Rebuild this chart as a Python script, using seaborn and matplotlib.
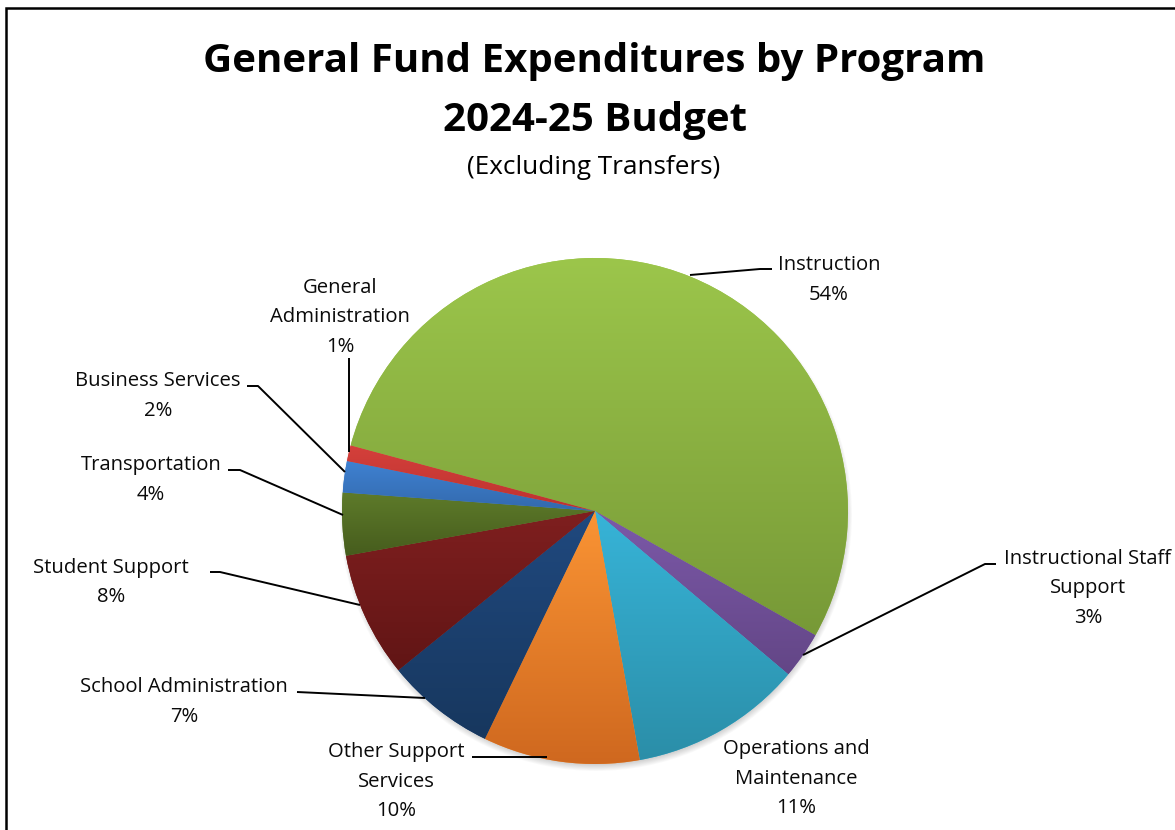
import numpy as np
import matplotlib
matplotlib.use("Agg")
import matplotlib.pyplot as plt
from matplotlib.colors import to_rgb
from matplotlib.patches import Circle
import seaborn as sns

sns.set_theme(style="white")
plt.rcParams["font.family"] = ["Open Sans", "DejaVu Sans"]

# Share of the general fund by program (percent of total, excluding transfers)
programs = [
    "Instruction",
    "Instructional Staff\nSupport",
    "Operations and\nMaintenance",
    "Other Support\nServices",
    "School Administration",
    "Student Support",
    "Transportation",
    "Business Services",
    "General\nAdministration",
]
shares = [54, 3, 11, 10, 7, 8, 4, 2, 1]

# Top / bottom shades of each slice's vertical gradient
top_colors = ["#9cc64b", "#7c59a9", "#37b4d8", "#fa9434", "#20497f",
              "#7f1f1f", "#5e7b2a", "#3f82d2", "#d4403b"]
bottom_colors = ["#779937", "#634686", "#2b8ea8", "#cf681f", "#17375e",
                 "#611515", "#465c1d", "#3369ad", "#bd3230"]

W, H = 1175, 830
fig = plt.figure(figsize=(W / 100, H / 100), dpi=100)
ax = fig.add_axes([0, 0, 1, 1])


def py(y):
    """Convert a top-down pixel row into the axes' upward y coordinate."""
    return H - y


cx, cy, radius = 595, py(511), 253

# soft drop shadow under the pie
for k in range(8):
    ax.add_patch(Circle((cx + 1, cy - 4), radius + 3 - k * 0.9,
                        facecolor="black", edgecolor="none",
                        alpha=0.025, zorder=1))

wedges, _ = ax.pie(shares, center=(cx, cy), radius=radius,
                   startangle=165.0, counterclock=False,
                   colors=top_colors,
                   wedgeprops=dict(linewidth=0, zorder=2),
                   frame=True)

# vertical gradient inside every slice
for w, ct, cb in zip(wedges, top_colors, bottom_colors):
    t1, t2 = np.deg2rad(w.theta1), np.deg2rad(w.theta2)
    ang = np.linspace(t1, t2, 200)
    xs = np.concatenate([[cx], cx + radius * np.cos(ang)])
    ys = np.concatenate([[cy], cy + radius * np.sin(ang)])
    y0, y1 = ys.min(), ys.max()
    x0, x1 = xs.min(), xs.max()
    f = np.linspace(0, 1, 256)[:, None]
    grad = (1 - f) * np.array(to_rgb(cb)) + f * np.array(to_rgb(ct))
    img = np.repeat(grad[:, None, :], 2, axis=1)
    im = ax.imshow(img, extent=(x0, x1, y0, y1), origin="lower",
                   aspect="auto", interpolation="bilinear", zorder=3)
    im.set_clip_path(w)

ax.set_xlim(0, W)
ax.set_ylim(0, H)
ax.set_aspect("auto")
ax.set_axis_off()

# label centres: (x, first line row) in pixel rows
label_pos = [
    (829, 265),
    (1088, 559),
    (796, 749),
    (396, 752),
    (184, 687),
    (111, 568),
    (151, 465),
    (158, 381),
    (340, 288),
]
line_step = 29.5
label_fs = 14.6
for name, val, (lx, ly) in zip(programs, shares, label_pos):
    lines = name.split("\n") + [f"{val}%"]
    for i, t in enumerate(lines):
        ax.text(lx, py(ly + i * line_step), t, ha="center", va="center",
                fontsize=label_fs, color="#0a0a0a", zorder=6)

# leader lines from labels to slice edges (pixel rows)
leaders = [
    [(772, 269), (760, 269), (690, 275)],
    [(996, 564), (985, 564), (803, 655)],
    [(472, 757), (547, 757)],
    [(297, 692), (425, 698)],
    [(210, 572), (220, 572), (360, 605)],
    [(228, 470), (240, 470), (343, 515)],
    [(247, 386), (258, 386), (345, 472)],
    [(349, 358), (349, 452)],
]
for pts in leaders:
    xs = [p[0] for p in pts]
    ys = [py(p[1]) for p in pts]
    ax.plot(xs, ys, color="black", linewidth=1.4, zorder=5,
            solid_capstyle="butt")

# titles
ax.text(594, py(62), "General Fund Expenditures by Program", ha="center",
        va="center", fontsize=29, fontweight="bold", color="black")
ax.text(595, py(120), "2024-25 Budget", ha="center", va="center",
        fontsize=29, fontweight="bold", color="black")
ax.text(594, py(167), "(Excluding Transfers)", ha="center", va="center",
        fontsize=18.8, color="black")

# chart-area border (extends beyond the right and bottom edges)
ax.plot([6, 6, W + 10], [-10, py(8), py(8)], color="black",
        linewidth=1.8, zorder=7, solid_joinstyle="miter", clip_on=False)

fig.savefig("out.png", dpi=100)
